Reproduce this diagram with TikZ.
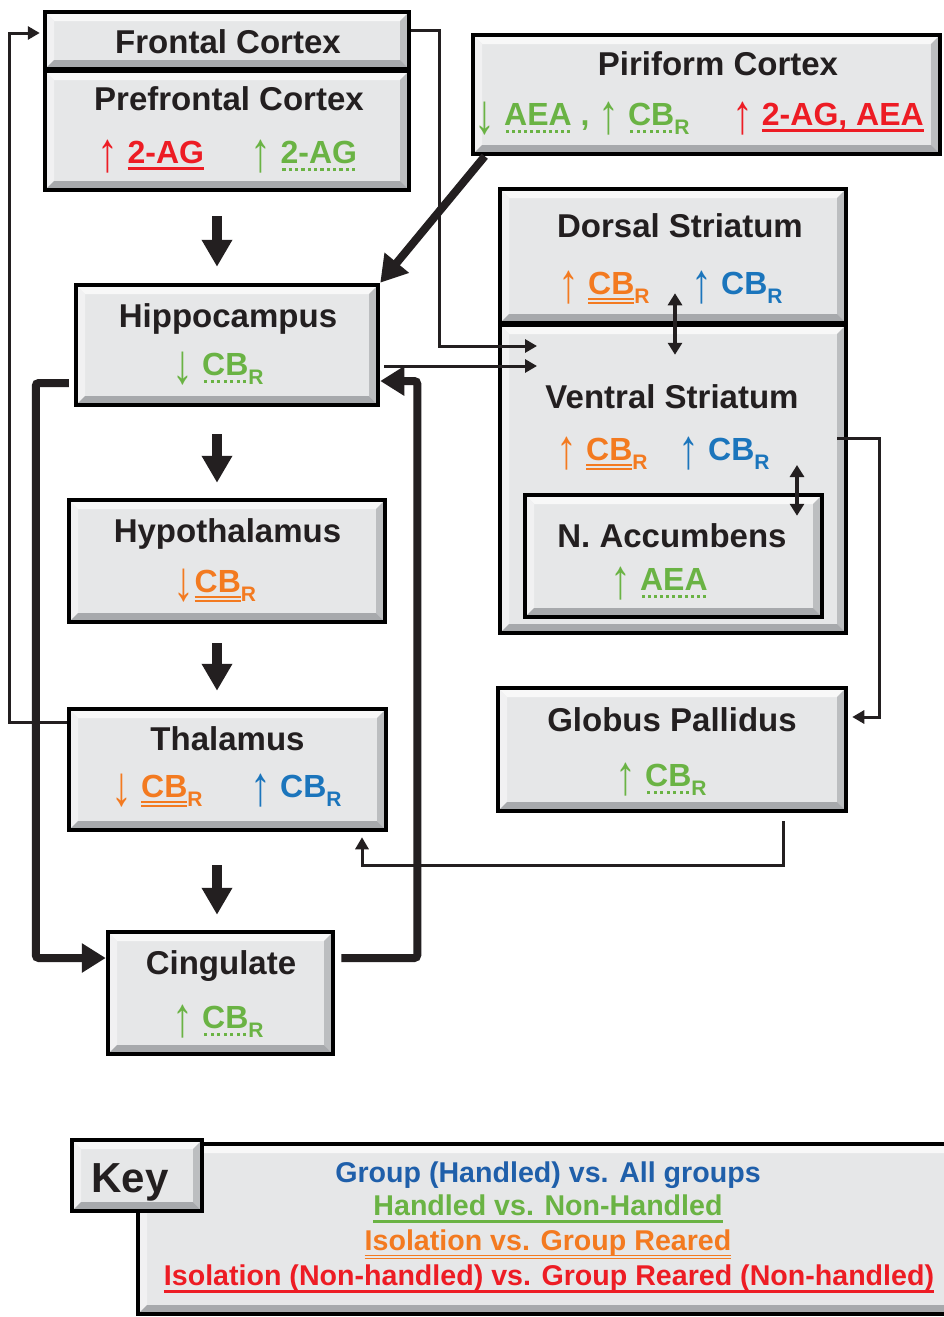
\documentclass[tikz,border=0pt]{standalone}
\usepackage{fontspec}
\usepackage{graphicx}
\setmainfont{Liberation Sans}
\usetikzlibrary{arrows.meta}
\definecolor{boxfill}{HTML}{E6E7E8}
\definecolor{bevtop}{HTML}{F8F8F8}
\definecolor{bevleft}{HTML}{F1F1F2}
\definecolor{bevbot}{HTML}{A7A9AC}
\definecolor{bevright}{HTML}{BCBEC0}
\definecolor{ink}{HTML}{231F20}
\definecolor{cred}{HTML}{ED1C24}
\definecolor{cgreen}{HTML}{6AB344}
\definecolor{corange}{HTML}{F37A20}
\definecolor{cblue}{HTML}{1B75BC}
\definecolor{ckeyblue}{HTML}{1F5FAA}
\newcommand\ua{\raisebox{-8pt}{\mdseries\scalebox{1.3}[1.75]{↑}}}
\newcommand\da{\raisebox{-8pt}{\mdseries\scalebox{1.3}[1.75]{↓}}}
\newcommand\subR{\raisebox{-9pt}{\fontsize{21}{21}\selectfont R}}
\newcommand\usolid[1]{\leavevmode\setbox0=\hbox{#1}\rlap{\vrule width\wd0 height -4pt depth 7pt}\box0\relax}
\newcommand\udot[1]{\leavevmode\setbox0=\hbox{#1}\rlap{\hbox to\wd0{\xleaders\hbox{\kern1.4pt\vrule width 3.2pt height -5pt depth 8.2pt\kern1.4pt}\hfil}}\box0\relax}
\newcommand\udbl[1]{\leavevmode\setbox0=\hbox{#1}\rlap{\vrule width\wd0 height -4pt depth 6pt}\rlap{\vrule width\wd0 height -7.6pt depth 9.6pt}\box0\relax}
\newcommand\ukeysolid[1]{\leavevmode\setbox0=\hbox{#1}\rlap{\vrule width\wd0 height -5pt depth 7.5pt}\box0\relax}
\newcommand\ukeydbl[1]{\leavevmode\setbox0=\hbox{#1}\rlap{\vrule width\wd0 height -5pt depth 6.4pt}\rlap{\vrule width\wd0 height -7.6pt depth 9pt}\box0\relax}
\tikzset{
  bev/.style={draw=black, line width=4.5pt, fill=boxfill, inner sep=0pt,
    path picture={
      \fill[bevtop] (path picture bounding box.north west) -- (path picture bounding box.north east)
        -- ([xshift=-9pt,yshift=-9pt]path picture bounding box.north east)
        -- ([xshift=9pt,yshift=-9pt]path picture bounding box.north west) -- cycle;
      \fill[bevleft] (path picture bounding box.north west) -- (path picture bounding box.south west)
        -- ([xshift=9pt,yshift=9pt]path picture bounding box.south west)
        -- ([xshift=9pt,yshift=-9pt]path picture bounding box.north west) -- cycle;
      \fill[bevright] (path picture bounding box.north east) -- (path picture bounding box.south east)
        -- ([xshift=-9pt,yshift=9pt]path picture bounding box.south east)
        -- ([xshift=-9pt,yshift=-9pt]path picture bounding box.north east) -- cycle;
      \fill[bevbot] (path picture bounding box.south west) -- (path picture bounding box.south east)
        -- ([xshift=-9pt,yshift=9pt]path picture bounding box.south east)
        -- ([xshift=9pt,yshift=9pt]path picture bounding box.south west) -- cycle;
    }},
  title/.style={anchor=base, inner sep=0pt, text=ink, font=\fontsize{33}{36}\selectfont\bfseries},
  row/.style={anchor=base, inner sep=0pt, font=\fontsize{32}{34}\selectfont\bfseries},
  keytxt/.style={anchor=base, inner sep=0pt, font=\fontsize{28.6}{30}\selectfont\bfseries},
  thinarrow/.style={draw=ink, line width=3pt, -{Triangle[width=13pt,length=12pt]}},
  dblarrow/.style={draw=ink, line width=3.5pt, {Triangle[width=14pt,length=12pt]}-{Triangle[width=14pt,length=12pt]}},
  bigdown/.style={draw=ink, line width=10pt, -{Triangle[width=29pt,length=27pt]}},
  thickloop/.style={draw=ink, line width=8pt, rounded corners=3pt, -{Triangle[width=28pt,length=24pt]}},
}
\begin{document}
\begin{tikzpicture}[x=1pt,y=-1pt]
\useasboundingbox[fill=white] (0,0) rectangle (943,1317);

% boxes
\node[bev, minimum width=364pt, minimum height=57pt] (fc) at (227,40.5) {};
\node[bev, minimum width=364pt, minimum height=119pt] (pfc) at (227,130.5) {};
\node[bev, minimum width=467pt, minimum height=119pt] (pir) at (706.5,94.5) {};
\node[bev, minimum width=346pt, minimum height=134pt] (ds) at (673,256) {};
\node[bev, minimum width=346pt, minimum height=308pt] (vs) at (673,479) {};
\node[bev, minimum width=297pt, minimum height=122pt] (nacc) at (673.5,556) {};
\node[bev, minimum width=302pt, minimum height=120pt] (hip) at (227,345) {};
\node[bev, minimum width=316pt, minimum height=122pt] (hyp) at (227,561) {};
\node[bev, minimum width=317pt, minimum height=121pt] (thal) at (227.5,769.5) {};
\node[bev, minimum width=225pt, minimum height=122pt] (cing) at (220.5,993) {};
\node[bev, minimum width=348pt, minimum height=123pt] (gp) at (672,749.5) {};
\node[bev, minimum width=830pt, minimum height=170pt] (keyL) at (553,1229) {};
\node[bev, minimum width=130pt, minimum height=71pt] (keyS) at (137,1175.5) {};

% texts
\node[title] (tfc) at (228,53) {Frontal Cortex};
\node[title] (tpfc) at (229,110) {Prefrontal Cortex};
\node[row, text=cred] (pfc1) at (151,163) {\ua\ \usolid{2-AG}};
\node[row, text=cgreen] (pfc2) at (304,163) {\ua\ \udot{2-AG}};

\node[title] (tpir) at (718,75) {Piriform Cortex};
\node[row, text=cgreen] (pir1) at (582,125) {\da\ \udot{AEA} , \ua\ \udot{CB}\subR};
\node[row, text=cred] (pir2) at (828,125) {\ua\ \usolid{2-AG, AEA}};

\node[title] (tds) at (680,237) {Dorsal Striatum};
\node[row, text=corange] (ds1) at (604,294) {\ua\ \udbl{CB}\subR};
\node[row, text=cblue] (ds2) at (737,294) {\ua\ CB\subR};

\node[title] (tvs) at (672,408) {Ventral Striatum};
\node[row, text=corange] (vs1) at (602,460) {\ua\ \udbl{CB}\subR};
\node[row, text=cblue] (vs2) at (724,460) {\ua\ CB\subR};

\node[title] (tnacc) at (672,547) {N. Accumbens};
\node[row, text=cgreen] (nacc1) at (659,590) {\ua\ \udot{AEA}};

\node[title] (thip) at (228,327) {Hippocampus};
\node[row, text=cgreen] (hip1) at (218,375) {\da\ \udot{CB}\subR};

\node[title] (thyp) at (227.5,542) {Hypothalamus};
\node[row, text=corange] (hyp1) at (215,592) {\da\udbl{CB}\subR};

\node[title] (tthal) at (227.5,750) {Thalamus};
\node[row, text=corange] (thal1) at (157,797) {\da\ \udbl{CB}\subR};
\node[row, text=cblue] (thal2) at (296,797) {\ua\ CB\subR};

\node[title] (tcing) at (221,974) {Cingulate};
\node[row, text=cgreen] (cing1) at (218,1028) {\ua\ \udot{CB}\subR};

\node[title] (tgp) at (672,731) {Globus Pallidus};
\node[row, text=cgreen] (gp1) at (661,786) {\ua\ \udot{CB}\subR};

\node[anchor=base, inner sep=0pt, text=ink, font=\fontsize{42}{44}\selectfont\bfseries] (tkey) at (130,1192) {Key};
\node[keytxt, text=ckeyblue] (k1) at (548,1182) {Group (Handled) vs. All groups};
\node[keytxt, text=cgreen] (k2) at (548,1215) {\ukeysolid{Handled vs. Non-Handled}};
\node[keytxt, text=corange] (k3) at (548,1250) {\ukeydbl{Isolation vs. Group Reared}};
\node[keytxt, text=cred] (k4) at (549,1285) {\ukeysolid{Isolation (Non-handled) vs. Group Reared (Non-handled)}};

% helper coordinates
\coordinate (ax) at (217,0);
\coordinate (vsin1) at (537,346);
\coordinate (vsin2) at (537,366);

% thin connectors
\draw[thinarrow, shorten >=3pt] ([yshift=47.5pt]thal.west) -- ++(-57,0) |- ([yshift=7.5pt]fc.west);
\draw[thinarrow] ([yshift=10pt]fc.east) -- ++(28,0) |- (vsin1);
\draw[thinarrow, shorten <=4pt] (hip.east |- vsin2) -- (vsin2);
\draw[thinarrow] ([xshift=-11pt,yshift=41pt]vs.east) -- ++(42,0) |- ([xshift=4pt,yshift=32.5pt]gp.east);
\draw[thinarrow, shorten <=8pt] ([xshift=111pt]gp.south) -- ++(0,52) -| ([xshift=134.5pt,yshift=-5pt]thal.south);
\draw[dblarrow] ([xshift=2pt,yshift=32pt]ds.south) -- ([xshift=2pt,yshift=-32pt]vs.north);
\draw[dblarrow] ([xshift=124pt,yshift=14pt]vs.center) -- ([xshift=123.5pt,yshift=-23pt]nacc.north);

% thick connectors
\draw[bigdown, shorten <=24pt, shorten >=16pt] (pfc.south -| ax) -- (hip.north -| ax);
\draw[bigdown, shorten <=27pt, shorten >=15pt] (hip.south -| ax) -- (hyp.north -| ax);
\draw[bigdown, shorten <=19pt, shorten >=16pt] (hyp.south -| ax) -- (thal.north -| ax);
\draw[bigdown, shorten <=33pt, shorten >=15pt] (thal.south -| ax) -- (cing.north -| ax);
\draw[draw=ink, line width=8pt, -{Triangle[width=30pt,length=26pt]}] ([xshift=14pt]pir.south west) -- (hip.north east);
\draw[thickloop, shorten <=5pt] ([yshift=-38pt]hip.west) -- ++(-38,0) |- ([yshift=35pt]cing.west);
\draw[thickloop, shorten <=6pt] ([yshift=35pt]cing.east) -- ++(82,0) |- ([yshift=-36pt]hip.east);
\end{tikzpicture}
\end{document}
